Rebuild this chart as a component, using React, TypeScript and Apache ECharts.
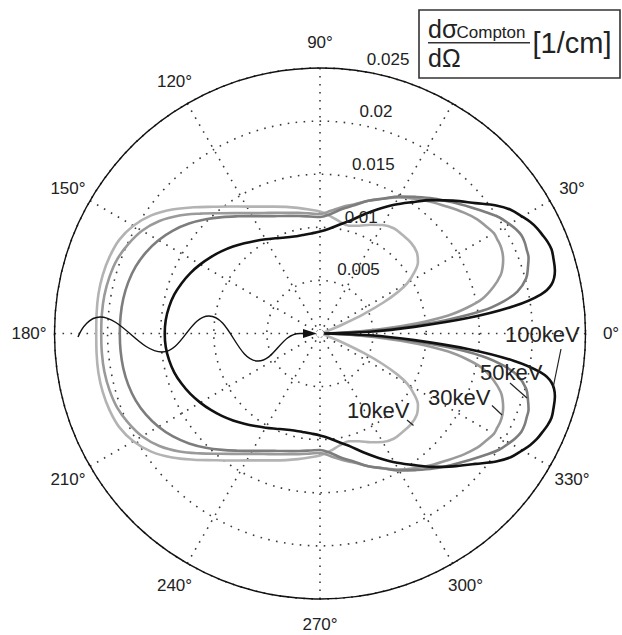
import React, { useEffect, useRef } from "react";
import * as echarts from "echarts";

// Scattering angle (degrees) for the upper half of each curve; the lower half mirrors it.
const ANGLES = [
  0, 2, 4, 6, 8, 10, 12, 15, 18, 20, 22, 24, 26, 28, 30, 33, 36, 40, 45, 50, 55, 60, 65, 70, 75, 80, 85,
  90, 95, 100, 105, 110, 115, 120, 125, 130, 135, 140, 145, 150, 155, 160, 165, 170, 175, 180,
];

// dσ_Compton/dΩ [1/cm] at each angle
const KEV_10 = [
  0, 0, 0, 0, 0, 0, 0.0001, 0.0003, 0.0007, 0.0011, 0.0024, 0.0045, 0.0066, 0.0083, 0.0095, 0.0106, 0.0114, 0.0119, 0.0121, 0.0121, 0.0121, 0.0118, 0.0113, 0.0108, 0.0105, 0.0107, 0.0111,
  0.01149, 0.01172, 0.01201, 0.01234, 0.01271, 0.01318, 0.0138, 0.0146, 0.01558, 0.01681, 0.01817, 0.0194, 0.02029, 0.02086, 0.02109, 0.02119, 0.02119, 0.02112, 0.02107,
];
const KEV_30 = [
  0, 0.0019, 0.0056, 0.0092, 0.0122, 0.0141, 0.0156, 0.0169, 0.0179, 0.0183, 0.0186, 0.0188, 0.0189, 0.0189, 0.0189, 0.0186, 0.0183, 0.0177, 0.0169, 0.0162, 0.0155, 0.0148, 0.014, 0.0133, 0.0126, 0.0121, 0.0116,
  0.01125, 0.01135, 0.01153, 0.01177, 0.0121, 0.01252, 0.01309, 0.01384, 0.01478, 0.01596, 0.01728, 0.01846, 0.01935, 0.01992, 0.02034, 0.02053, 0.02062, 0.02062, 0.0206,
];
const KEV_50 = [
  0, 0.003, 0.0073, 0.0118, 0.0155, 0.0176, 0.019, 0.0201, 0.0206, 0.0209, 0.021, 0.0211, 0.0211, 0.0209, 0.0206, 0.0201, 0.0194, 0.0185, 0.0175, 0.0166, 0.0157, 0.0149, 0.014, 0.0133, 0.0125, 0.0119, 0.0113,
  0.01097, 0.01106, 0.01123, 0.01147, 0.01177, 0.01219, 0.01276, 0.01347, 0.01431, 0.01521, 0.0161, 0.0169, 0.01756, 0.01808, 0.01846, 0.01869, 0.01881, 0.01885, 0.01885,
];
const KEV_100 = [
  0, 0.0047, 0.0089, 0.0141, 0.0184, 0.0211, 0.0223, 0.0229, 0.0231, 0.0232, 0.0231, 0.0229, 0.0227, 0.0224, 0.022, 0.0214, 0.0205, 0.0191, 0.0177, 0.0164, 0.0151, 0.014, 0.0129, 0.0119, 0.011, 0.0104, 0.0099,
  0.0096, 0.00946, 0.00942, 0.00946, 0.00962, 0.00989, 0.01024, 0.01064, 0.01109, 0.01158, 0.01207, 0.01255, 0.01302, 0.01347, 0.01386, 0.0142, 0.01443, 0.01458, 0.01462,
];

const SERIES_NAMES = ["10keV", "30keV", "50keV", "100keV"];
const SERIES_VALUES = [KEV_10, KEV_30, KEV_50, KEV_100];
const SERIES_COLORS = ["#b3b3b3", "#9a9a9a", "#7d7d7d", "#111111"];

const RADIUS_TICKS = [0.005, 0.01, 0.015, 0.02, 0.025];
// the 60° label sits under the unit box, so it is not drawn
const ANGLE_LABELS = [0, 30, 90, 120, 150, 180, 210, 240, 270, 300, 330];

// layout
const CX = 320;
const CY = 333.5;
const R = 265.5;
const R_MAX = 0.025;
const FONT = '"Liberation Sans", Arial, Helvetica, sans-serif';
const TEXT = "#222";

// curve label placement: [left, middle-y, leader x1, y1, x2, y2]
const LABEL_POS: number[][] = [
  [347, 410, 407, 420, 413.5, 425.5],
  [428, 397.5, 492, 405.5, 502, 415],
  [480, 372.5, 510, 383, 527, 398],
  [505, 334.5, 561, 349, 553, 388],
];

const WAVE_D =
  "M78,337 C82,327 90,317 100,317 C122,317 140,352 162,352 C182,352 190,316 209,316 C230,316 237,361 258,361 C275,361 281,333.5 300,333.5 L306,333.5";

echarts.graphic.registerShape("photonWave", echarts.graphic.extendPath(WAVE_D, {}));

function closedCurve(vals: number[]) {
  const upper = ANGLES.map((a, i) => [vals[i], a]);
  const lower = ANGLES.slice(0, -1)
    .map((a, i) => [vals[i], 360 - a])
    .reverse();
  return [...upper, ...lower];
}

const dotted = { color: "#3a3a3a", width: 1.6, type: [1.6, 6.4] as number[] };

function buildOption() {
  const graphic: any[] = [];
  const deg = Math.PI / 180;

  ANGLE_LABELS.forEach((a) => {
    const rr = R + 25.5;
    graphic.push({
      type: "text",
      z: 100,
      x: CX + rr * Math.cos(a * deg),
      y: CY - rr * Math.sin(a * deg),
      style: {
        text: `${a}°`,
        fill: TEXT,
        fontSize: 17,
        fontFamily: FONT,
        align: "center",
        verticalAlign: "middle",
        textAlign: "center",
        textVerticalAlign: "middle",
      },
    });
  });

  RADIUS_TICKS.forEach((v) => {
    const rr = (v / R_MAX) * R + 2.7;
    graphic.push({
      type: "text",
      z: 100,
      x: CX + rr * Math.cos(82 * deg) + 9.5,
      y: CY - rr * Math.sin(82 * deg),
      style: {
        text: String(v),
        fill: TEXT,
        fontSize: 17,
        fontFamily: FONT,
        align: "left",
        verticalAlign: "bottom",
        textAlign: "left",
        textVerticalAlign: "bottom",
      },
    });
  });

  SERIES_NAMES.forEach((name, i) => {
    const p = LABEL_POS[i];
    graphic.push({
      type: "text",
      z: 100,
      x: p[0],
      y: p[1],
      style: {
        text: name,
        fill: TEXT,
        fontSize: 22,
        fontFamily: FONT,
        align: "left",
        verticalAlign: "middle",
        textAlign: "left",
        textVerticalAlign: "middle",
      },
    });
    graphic.push({
      type: "line",
      z: 100,
      shape: { x1: p[2], y1: p[3], x2: p[4], y2: p[5] },
      style: { stroke: "#222", lineWidth: 1.2 },
    });
  });

  // incoming photon and the scattering electron
  graphic.push({
    type: "photonWave",
    z: 90,
    x: 0,
    y: 0,
    scaleX: 1,
    scaleY: 1,
    style: { fill: "none", stroke: "#111", lineWidth: 1.4 },
  });
  graphic.push({
    type: "polygon",
    z: 91,
    shape: { points: [[303, 329], [317, 333.5], [303, 338]] },
    style: { fill: "#111" },
  });
  graphic.push({
    type: "circle",
    z: 92,
    shape: { cx: CX, cy: CY, r: 4 },
    style: { fill: "#fff", stroke: "#777", lineWidth: 1, lineDash: [2, 1.5] },
  });

  // quantity / unit box
  graphic.push({
    type: "rect",
    z: 100,
    shape: { x: 419, y: 10, width: 201, height: 68 },
    style: { fill: "#fff", stroke: "#333", lineWidth: 1.6 },
  });
  const boxText = (text: string, x: number, y: number, size: number) => ({
    type: "text",
    z: 101,
    x,
    y,
    style: {
      text,
      fill: TEXT,
      fontSize: size,
      fontFamily: FONT,
      align: "left",
      verticalAlign: "middle",
      textAlign: "left",
      textVerticalAlign: "middle",
    },
  });
  graphic.push(boxText("dσ", 428, 28.5, 25));
  graphic.push(boxText("Compton", 456.5, 32.5, 17));
  graphic.push({
    type: "line",
    z: 101,
    shape: { x1: 428, y1: 42.7, x2: 530, y2: 42.7 },
    style: { stroke: "#333", lineWidth: 1.6 },
  });
  graphic.push(boxText("dΩ", 428, 57.5, 25));
  graphic.push(boxText("[1/cm]", 532.5, 43, 29));

  return {
    animation: false,
    backgroundColor: "#fff",
    polar: { center: [CX, CY], radius: R },
    angleAxis: {
      type: "value",
      min: 0,
      max: 360,
      interval: 30,
      startAngle: 0,
      clockwise: false,
      axisLine: { show: true, lineStyle: { color: "#111", width: 1.4 } },
      axisTick: { show: false },
      axisLabel: { show: false },
      splitLine: { show: true, lineStyle: dotted },
    },
    radiusAxis: {
      type: "value",
      min: 0,
      max: R_MAX,
      interval: 0.005,
      axisLine: { show: false },
      axisTick: { show: false },
      axisLabel: { show: false },
      splitLine: { show: true, lineStyle: dotted },
    },
    series: SERIES_NAMES.map((name, i) => ({
      name,
      type: "line",
      coordinateSystem: "polar",
      data: closedCurve(SERIES_VALUES[i]),
      showSymbol: false,
      symbol: "none",
      smooth: 0.35,
      z: 3 + i,
      lineStyle: { color: SERIES_COLORS[i], width: 2.6 },
    })),
    graphic,
  };
}

export default function App() {
  const ref = useRef<HTMLDivElement>(null);
  useEffect(() => {
    if (!ref.current) return;
    const chart = echarts.init(ref.current, undefined, { renderer: "svg" });
    chart.setOption(buildOption() as any);
    return () => chart.dispose();
  }, []);
  return (
    <div
      ref={ref}
      style={{ position: "fixed", left: 0, top: 0, width: 622, height: 635, background: "#fff" }}
    />
  );
}
